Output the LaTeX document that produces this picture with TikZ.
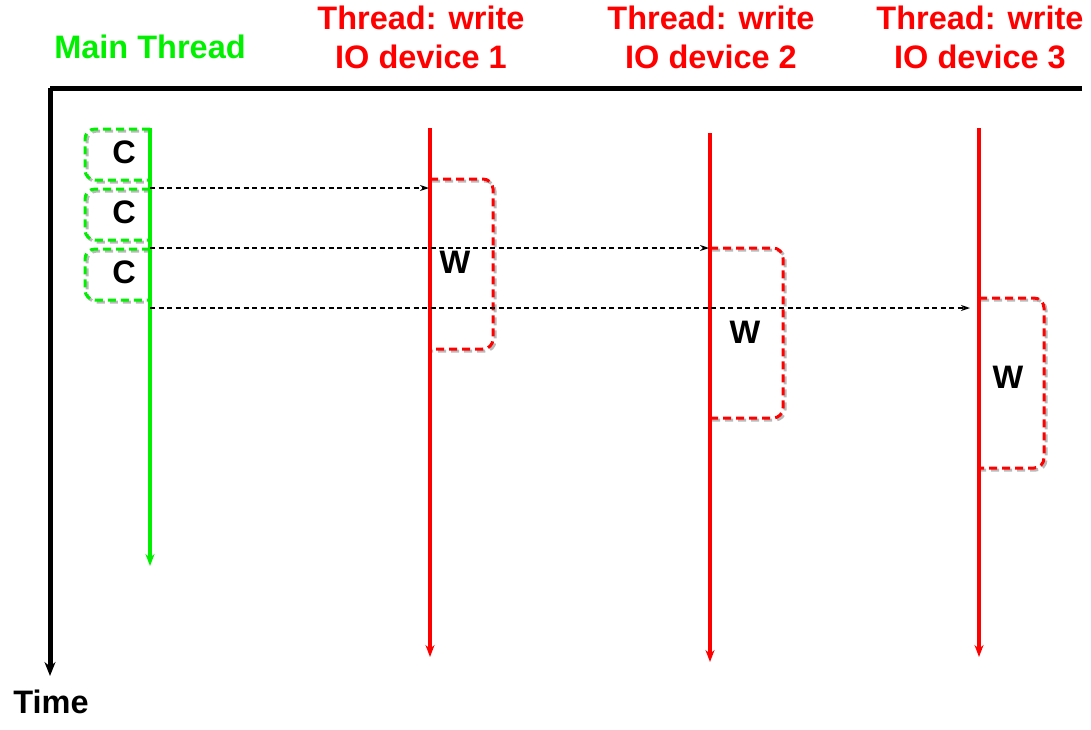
\documentclass[tikz,border=0pt]{standalone}
\usepackage{fontspec}
\setmainfont{Liberation Sans}
\usetikzlibrary{arrows.meta}
\definecolor{tgreen}{RGB}{0,240,0}
\definecolor{tred}{RGB}{255,0,0}
\definecolor{shadowgray}{RGB}{185,185,185}
\begin{document}
\begin{tikzpicture}[x=1pt,y=-1pt,
  lbl/.style={font=\fontsize{32.5}{39}\selectfont\bfseries, align=center, inner sep=0pt},
  axisline/.style={line width=5pt, black},
  threadline/.style={line width=4pt, -{Stealth[length=12pt,width=9pt]}},
  boxline/.style={line width=3pt, dash pattern=on 8pt off 5pt, rounded corners=10pt},
  shadowline/.style={boxline, draw=shadowgray},
  msg/.style={line width=1.8pt, dash pattern=on 5pt off 3.5pt, -{Stealth[length=9pt,width=6pt]}}
]
\useasboundingbox (0,0) rectangle (1091,729);

% titles
\node[lbl, tgreen] (tmain) at (150,47) {Main Thread};
\node[lbl, tred] (t1) at (421,37) {Thread: write\\IO device 1};
\node[lbl, tred] (t2) at (711,37) {Thread: write\\IO device 2};
\node[lbl, tred] (t3) at (980,37) {Thread: write\\IO device 3};
\node[lbl] (time) at (51,702) {Time};

% axes
\coordinate (ax0) at (50,88);
\coordinate (axR) at (1082,88);
\coordinate (axB) at (50,676);
\draw[axisline] (axR) -- (ax0);
\draw[axisline, -{Stealth[length=14pt,width=11pt]}] (ax0) -- (axB);

% C boxes (shadow first)
\foreach \y in {129,189,249}{
  \draw[shadowline] (152,\y+2) -- (87,\y+2) -- (87,\y+53) -- (152,\y+53);
  \draw[boxline, tgreen] (150,\y) -- (85,\y) -- (85,\y+51) -- (150,\y+51);
}
% W boxes
\draw[shadowline] (432,181) -- (495,181) -- (495,351) -- (432,351);
\draw[boxline, tred] (430,179) -- (493,179) -- (493,349) -- (430,349);
\draw[shadowline] (712,250) -- (785,250) -- (785,420) -- (712,420);
\draw[boxline, tred] (710,248) -- (783,248) -- (783,418) -- (710,418);
\draw[shadowline] (981,300) -- (1046,300) -- (1046,470) -- (981,470);
\draw[boxline, tred] (979,298) -- (1044,298) -- (1044,468) -- (979,468);

% box labels
\node[lbl] (c1) at (124,152) {C};
\node[lbl] (c2) at (124,212) {C};
\node[lbl] (c3) at (124,272) {C};
\node[lbl] (w1) at (455,262) {W};
\node[lbl] (w2) at (745,332) {W};
\node[lbl] (w3) at (1008,377) {W};

% thread lines
\coordinate (m0) at (150,128); \coordinate (m1) at (150,566);
\coordinate (d1a) at (430,128); \coordinate (d1b) at (430,657);
\coordinate (d2a) at (710,133); \coordinate (d2b) at (710,662);
\coordinate (d3a) at (979,128); \coordinate (d3b) at (979,657);
\draw[threadline, tgreen] (m0) -- (m1);
\draw[threadline, tred] (d1a) -- (d1b);
\draw[threadline, tred] (d2a) -- (d2b);
\draw[threadline, tred] (d3a) -- (d3b);

% messages
\coordinate (s1) at (150,188); \coordinate (e1) at (429,188);
\coordinate (s2) at (150,248); \coordinate (e2) at (709,248);
\coordinate (s3) at (150,308); \coordinate (e3) at (970,308);
\draw[msg] (s1) -- (e1);
\draw[msg] (s2) -- (e2);
\draw[msg] (s3) -- (e3);
\end{tikzpicture}
\end{document}
